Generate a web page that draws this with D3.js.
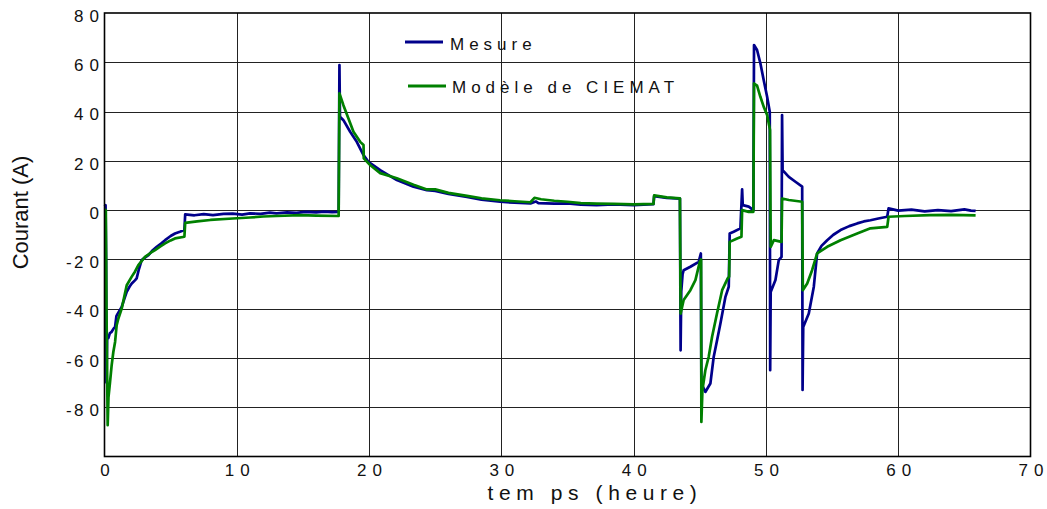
<!DOCTYPE html>
<html>
<head>
<meta charset="utf-8">
<script src="https://cdn.jsdelivr.net/npm/d3@7"></script>
<style>
  html, body { margin: 0; padding: 0; background: #fff; }
  svg { display: block; font-family: "Liberation Sans", Arial, Helvetica, sans-serif; }
</style>
</head>
<body>
<svg id="chart" width="1047" height="509"></svg>
<script>
// ---- Data ----
const xTicks = [0, 10, 20, 30, 40, 50, 60, 70];
const yTicks = [80, 60, 40, 20, 0, -20, -40, -60, -80];
const seriesNames = ["Mesure", "Modèle de CIEMAT"];
const xTitle = "tem ps (heure)";
const yTitle = "Courant (A)";

// Mesure: time (h) and current (A)
const mesureT = [0, 0.08, 0.12, 0.15, 0.2, 0.29, 0.4, 0.54, 0.7, 0.8, 0.9, 1.0, 1.3, 1.5, 1.68, 1.9, 2.06, 2.3, 2.43, 2.6, 2.81, 3.0, 3.32, 3.6, 3.95, 4.3, 4.58, 5.0, 5.33, 5.7, 6.04,
  6.1, 6.8, 7.5, 8.2, 9, 9.7, 10.4, 11, 11.8, 12.5, 13, 13.8, 14.5, 15.2, 16, 16.6, 17.2, 17.7,
  17.76, 17.8, 18.06, 18.57, 19.07, 19.58, 19.95, 20.84, 22.1, 23.36, 24.37, 25, 26, 27.4, 28.5, 29.9, 31, 32.2, 32.6, 32.8, 34, 35, 36, 37.2, 38.5, 40, 41.5,
  41.55, 42.5, 43.5,
  43.55, 43.6, 43.7, 43.78, 44.29, 44.92, 45.08,
  45.12, 45.42, 45.8, 46.05, 46.3, 46.56, 46.94, 47.19,
  47.26, 47.56, 48.07, 48.2, 48.25, 48.7, 49.05,
  49.1, 49.33, 49.58, 49.83, 50.09, 50.29,
  50.32, 50.36, 50.72, 50.97, 51.18,
  51.22, 51.26, 51.73, 52.23, 52.74,
  52.77, 52.82, 53.24, 53.62, 53.87, 54.2, 54.63, 55.1, 55.64, 56.3, 56.9, 57.4, 57.9, 58.5, 59.17,
  59.27, 60, 61, 62, 63, 64, 65, 65.5, 65.85];
const mesureI = [1.6, 2.0, -20, -70, -52, -52, -50, -49.4, -48, -47.4, -43, -42, -39.3, -36, -33.2, -31, -29.8, -28.5, -27.7, -24, -20.3, -19.5, -18.3, -16.5, -14.9, -13.5, -12.2, -10.5, -9.5, -8.8, -8.1,
  -1.7, -2.1, -1.6, -2.0, -1.5, -1.4, -1.8, -1.3, -1.5, -1.0, -1.3, -0.9, -1.1, -0.7, -0.9, -0.6, -0.8, -0.7,
  58.9, 37.9, 36.5, 31.8, 27.7, 22.3, 19.6, 16.2, 12.2, 9.5, 8.1, 7.8, 6.6, 5.4, 4.2, 3.4, 3.0, 2.7, 3.5, 2.8, 2.6, 2.7, 2.2, 2.0, 2.3, 2.0, 2.4,
  5.7, 5.0, 4.7,
  -56.9, -33, -26, -24.4, -23, -21, -17.6,
  -70.4, -73.8, -70.4, -59.6, -53, -46, -35.2, -31.1,
  -9.5, -8.8, -7.4, 8.4, 2.0, 1.4, 0,
  67, 65, 59.6, 52.8, 46, 39.9,
  -65, -33.2, -28.4, -20.3, -19,
  38.6, 16.2, 13.5, 11.5, 9.5,
  -73, -47.4, -42, -31.1, -17.6, -14.5, -12.2, -10, -8.1, -6.5, -5.4, -4.6, -4.1, -3.4, -2.7,
  0.7, -0.2, 0.2, -0.5, 0, -0.4, 0.3, -0.2, -0.3];

// Modèle de CIEMAT: time (h) and current (A)
const modeleT = [0, 0.1, 0.15, 0.24, 0.3, 0.42, 0.54, 0.67, 0.8, 0.92, 1.05, 1.3, 1.5, 1.68, 2.06, 2.3, 2.56, 3.06, 3.5, 3.82, 4.2, 4.58, 5.0, 5.33, 6.04,
  6.1, 7, 8, 9.7, 11, 12, 13, 14.8, 16, 17.7,
  17.76, 18.06, 18.44, 18.82, 19.33, 19.58, 19.6, 20.08, 20.84, 22.1, 23.36, 24.37, 25, 26, 27.4, 28.5, 29.9, 31, 32.2, 32.5, 33, 34, 35, 36, 37.2, 38.5, 40, 41.5,
  41.55, 42.5, 43.5,
  43.55, 43.78, 44.29, 44.67, 45.0, 45.1,
  45.12, 45.2, 45.42, 45.67, 45.93, 46.3, 46.69, 47.11, 47.22,
  47.26, 47.82, 48.15, 48.2, 48.7, 49.05,
  49.1, 49.33, 49.58, 49.83, 50.09, 50.31,
  50.36, 50.6, 51.18,
  51.22, 51.73, 52.74,
  52.79, 53.12, 53.49, 53.87, 54.63, 55.64, 56.9, 57.9, 59.17,
  59.27, 60.5, 62.4, 64, 65.85];
const modeleI = [0.3, 0, -40, -87.3, -76, -69.7, -63, -57.5, -53.5, -46.7, -44, -40, -35, -30.5, -27, -25, -22.3, -19, -17.3, -16.2, -14.8, -13.5, -12.3, -11.5, -10.8,
  -5.2, -4.6, -4.0, -3.4, -3.0, -2.6, -2.4, -2.0, -2.2, -2.4,
  47.4, 42.6, 37.2, 31.8, 27.7, 26.4, 21, 18.3, 15.0, 12.9, 10.3, 8.4, 8.4, 7.0, 5.8, 4.8, 4.0, 3.6, 3.2, 5.0, 4.4, 3.8, 3.4, 2.8, 2.6, 2.5, 2.3, 2.5,
  6.0, 5.2, 4.8,
  -42, -36.5, -32.5, -28.4, -21, -20,
  -86, -73, -65, -59.6, -51.4, -42, -32.5, -27.7, -27,
  -12.9, -11.5, -10.8, 0, -0.7, -0.7,
  51.4, 50.5, 46, 42, 38.6, 32.5,
  -14.9, -12.2, -12.9,
  4.7, 4.1, 3.4,
  -32.5, -29.8, -24.4, -17.6, -14.9, -12.2, -9.5, -7.4, -6.8,
  -2.7, -2.4, -2, -1.9, -2.1];

const colors = ["#00008b", "#008000"];

// ---- Layout ----
const svg = d3.select("#chart");
const plot = { left: 104.5, right: 1030.5, top: 13, bottom: 456.5 };

const x = d3.scaleLinear().domain([0, 70]).range([plot.left, plot.right]);
const y = d3.scaleLinear().domain([-100, 80]).range([plot.bottom, plot.top]);

// gridlines
const grid = svg.append("g");
grid.selectAll("line.h").data(yTicks.filter(v => v !== 80)).enter().append("line")
  .attr("x1", plot.left).attr("x2", plot.right)
  .attr("y1", d => Math.round(y(d)) + 0.5).attr("y2", d => Math.round(y(d)) + 0.5)
  .attr("stroke", "#222").attr("stroke-width", 1);
grid.selectAll("line.v").data(xTicks.filter(v => v !== 0 && v !== 70)).enter().append("line")
  .attr("y1", plot.top).attr("y2", plot.bottom)
  .attr("x1", d => Math.round(x(d)) + 0.5).attr("x2", d => Math.round(x(d)) + 0.5)
  .attr("stroke", "#222").attr("stroke-width", 1);

// tick label spacing helper (spaced digits like the original)
function dxList(label) {
  const chars = Array.from(label);
  return chars.map((c, i) => i === 0 ? 0 : (chars[i - 1] === "-" ? 2.5 : 6)).join(" ");
}

// axes
const yAxis = svg.append("g").attr("transform", `translate(${plot.left},0)`)
  .call(d3.axisLeft(y).tickValues(yTicks).tickSize(0).tickPadding(5.5).tickFormat(d => String(d)));
yAxis.select(".domain").remove();
yAxis.selectAll("text")
  .attr("dy", 8.3)
  .attr("dx", d => dxList(String(d)))
  .attr("font-size", 17).attr("fill", "#111")
  .attr("font-family", "'Liberation Sans', Arial, sans-serif");

const xAxis = svg.append("g").attr("transform", `translate(0,${plot.bottom})`)
  .call(d3.axisBottom(x).tickValues(xTicks).tickSize(0).tickPadding(0).tickFormat(d => String(d)));
xAxis.select(".domain").remove();
xAxis.selectAll("text")
  .attr("y", 19).attr("dy", 0)
  .attr("dx", d => dxList(String(d)))
  .attr("font-size", 17).attr("fill", "#111")
  .attr("font-family", "'Liberation Sans', Arial, sans-serif");

// series
const line = d3.line().x(d => x(d[0])).y(d => y(d[1]));
const series = [
  d3.zip(mesureT, mesureI),
  d3.zip(modeleT, modeleI)
];
series.forEach((pts, i) => {
  svg.append("path").datum(pts)
    .attr("d", line)
    .attr("fill", "none")
    .attr("stroke", colors[i])
    .attr("stroke-width", 2.7)
    .attr("stroke-linejoin", "round");
});

// frame
svg.append("rect")
  .attr("x", plot.left).attr("y", plot.top)
  .attr("width", plot.right - plot.left).attr("height", plot.bottom - plot.top)
  .attr("fill", "none").attr("stroke", "#000").attr("stroke-width", 1.6);

// legend
const legendPos = [{ x1: 405, x2: 443, ly: 42, tx: 450, ty: 50 }, { x1: 408, x2: 446, ly: 86, tx: 452, ty: 92.5 }];
seriesNames.forEach((name, i) => {
  const p = legendPos[i];
  svg.append("line").attr("x1", p.x1).attr("x2", p.x2).attr("y1", p.ly).attr("y2", p.ly)
    .attr("stroke", colors[i]).attr("stroke-width", 3);
  svg.append("text").attr("x", p.tx).attr("y", p.ty)
    .attr("font-size", 17).attr("letter-spacing", "5px").attr("fill", "#111")
    .text(name);
});

// axis titles
svg.append("text")
  .attr("x", 595).attr("y", 500)
  .attr("text-anchor", "middle")
  .attr("font-size", 21).attr("letter-spacing", "5.6px").attr("fill", "#111")
  .text(xTitle);

svg.append("text")
  .attr("transform", "translate(28,212.5) rotate(-90)")
  .attr("text-anchor", "middle")
  .attr("font-size", 22).attr("fill", "#111")
  .text(yTitle);
</script>
</body>
</html>
